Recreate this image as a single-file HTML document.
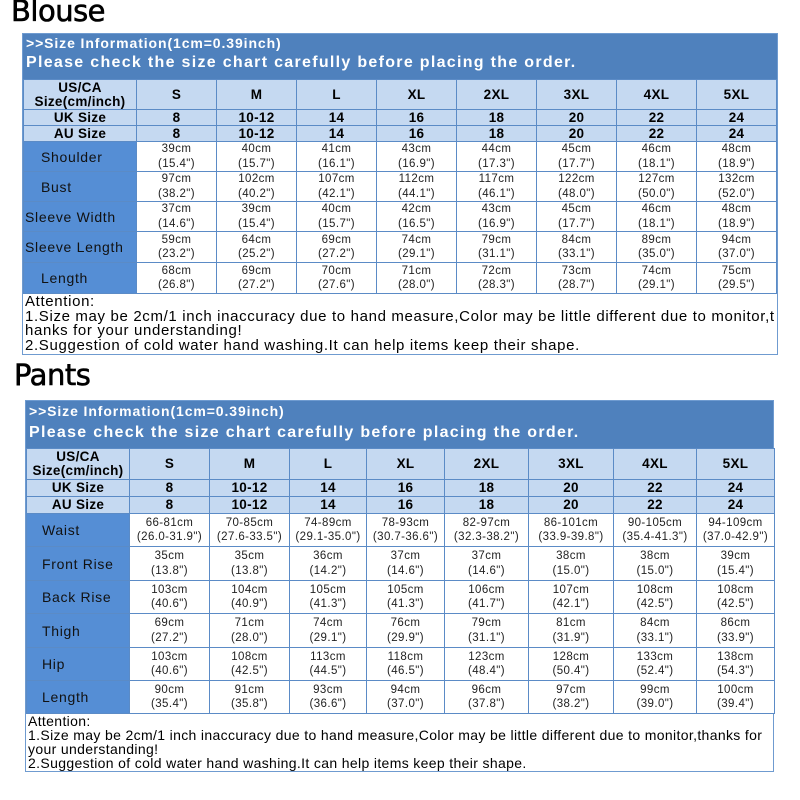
<!DOCTYPE html>
<html><head><meta charset="utf-8"><style>
*{margin:0;padding:0;box-sizing:border-box}
body{width:800px;height:800px;background:#fff;position:relative;overflow:hidden;font-family:"Liberation Sans",Arial,sans-serif}
.title{position:absolute;font-family:"DejaVu Sans","Liberation Sans",sans-serif;font-size:29px;color:#000;letter-spacing:-0.5px;-webkit-text-stroke:0.6px #000}
.box{position:absolute;border:1px solid #6f9bd0}
.hd{background:#4f81bd;color:#fff;font-weight:bold;position:relative}
.hd .a{position:absolute;left:3px;font-size:14px;letter-spacing:0.9px}
.hd .b{position:absolute;left:3px;font-size:16px;letter-spacing:1.3px}
table{border-collapse:collapse;table-layout:fixed;width:100%}
td{border:1px solid #5b8bc6;text-align:center;color:#000;overflow:hidden;white-space:nowrap}
tr.h td{background:#c5d9f1;font-weight:bold;font-size:13.5px;line-height:14px;letter-spacing:0.3px}
tr.s td{background:#c5d9f1;font-weight:bold;font-size:13.5px;line-height:14px;letter-spacing:0.3px}
td.l{background:#558ed5;font-size:14px;letter-spacing:0.7px;color:#111;text-align:left}
.bl td.l{padding-left:17px}
.bl td.w{padding-left:1px}
.pt td.l{padding-left:15px}
td.d{background:#fff;font-size:11.5px;line-height:14.5px;color:#222;letter-spacing:0.4px}
.att{font-size:15px;line-height:14.5px;color:#000;padding-left:2px;letter-spacing:0.65px;white-space:nowrap}
.pt .att{font-size:14px;letter-spacing:0.35px;line-height:14px}
</style></head><body>
<div class="title" style="left:11px;top:-6px">Blouse</div>
<div class="box bl" style="left:22px;top:33px;width:756px;height:322px">
<div class="hd" style="height:45px"><div class="a" style="top:1px">&gt;&gt;Size Information(1cm=0.39inch)</div><div class="b" style="top:20px">Please check the size chart carefully before placing the order.</div></div>
<table>
<colgroup><col style="width:113px"><col span="8" style="width:80px"></colgroup>
<tr class="h" style="height:30px"><td>US/CA<br>Size(cm/inch)</td><td>S</td><td>M</td><td>L</td><td>XL</td><td>2XL</td><td>3XL</td><td>4XL</td><td>5XL</td></tr>
<tr class="s" style="height:16px"><td>UK Size</td><td>8</td><td>10-12</td><td>14</td><td>16</td><td>18</td><td>20</td><td>22</td><td>24</td></tr>
<tr class="s" style="height:16px"><td>AU Size</td><td>8</td><td>10-12</td><td>14</td><td>16</td><td>18</td><td>20</td><td>22</td><td>24</td></tr>
<tr style="height:30px"><td class="l">Shoulder</td><td class="d">39cm<br>(15.4")</td><td class="d">40cm<br>(15.7")</td><td class="d">41cm<br>(16.1")</td><td class="d">43cm<br>(16.9")</td><td class="d">44cm<br>(17.3")</td><td class="d">45cm<br>(17.7")</td><td class="d">46cm<br>(18.1")</td><td class="d">48cm<br>(18.9")</td></tr>
<tr style="height:30px"><td class="l">Bust</td><td class="d">97cm<br>(38.2")</td><td class="d">102cm<br>(40.2")</td><td class="d">107cm<br>(42.1")</td><td class="d">112cm<br>(44.1")</td><td class="d">117cm<br>(46.1")</td><td class="d">122cm<br>(48.0")</td><td class="d">127cm<br>(50.0")</td><td class="d">132cm<br>(52.0")</td></tr>
<tr style="height:30px"><td class="l w">Sleeve Width</td><td class="d">37cm<br>(14.6")</td><td class="d">39cm<br>(15.4")</td><td class="d">40cm<br>(15.7")</td><td class="d">42cm<br>(16.5")</td><td class="d">43cm<br>(16.9")</td><td class="d">45cm<br>(17.7")</td><td class="d">46cm<br>(18.1")</td><td class="d">48cm<br>(18.9")</td></tr>
<tr style="height:31px"><td class="l w">Sleeve Length</td><td class="d">59cm<br>(23.2")</td><td class="d">64cm<br>(25.2")</td><td class="d">69cm<br>(27.2")</td><td class="d">74cm<br>(29.1")</td><td class="d">79cm<br>(31.1")</td><td class="d">84cm<br>(33.1")</td><td class="d">89cm<br>(35.0")</td><td class="d">94cm<br>(37.0")</td></tr>
<tr style="height:31px"><td class="l">Length</td><td class="d">68cm<br>(26.8")</td><td class="d">69cm<br>(27.2")</td><td class="d">70cm<br>(27.6")</td><td class="d">71cm<br>(28.0")</td><td class="d">72cm<br>(28.3")</td><td class="d">73cm<br>(28.7")</td><td class="d">74cm<br>(29.1")</td><td class="d">75cm<br>(29.5")</td></tr>
</table>
<div class="att" style="padding-top:1px">Attention:<br>1.Size may be 2cm/1 inch inaccuracy due to hand measure,Color may be little different due to monitor,t<br>hanks for your understanding!<br>2.Suggestion of cold water hand washing.It can help items keep their shape.</div>
</div>

<div class="title" style="left:14px;top:358px">Pants</div>
<div class="box pt" style="left:25px;top:400px;width:749px;height:372px">
<div class="hd" style="height:47px"><div class="a" style="top:2px">&gt;&gt;Size Information(1cm=0.39inch)</div><div class="b" style="top:23px">Please check the size chart carefully before placing the order.</div></div>
<table>
<colgroup><col style="width:103px"><col style="width:80px"><col style="width:80px"><col style="width:77px"><col style="width:78px"><col style="width:84px"><col style="width:85px"><col style="width:83px"><col style="width:78px"></colgroup>
<tr class="h" style="height:31px"><td>US/CA<br>Size(cm/inch)</td><td>S</td><td>M</td><td>L</td><td>XL</td><td>2XL</td><td>3XL</td><td>4XL</td><td>5XL</td></tr>
<tr class="s" style="height:17px"><td>UK Size</td><td>8</td><td>10-12</td><td>14</td><td>16</td><td>18</td><td>20</td><td>22</td><td>24</td></tr>
<tr class="s" style="height:17px"><td>AU Size</td><td>8</td><td>10-12</td><td>14</td><td>16</td><td>18</td><td>20</td><td>22</td><td>24</td></tr>
<tr style="height:33px"><td class="l">Waist</td><td class="d">66-81cm<br>(26.0-31.9")</td><td class="d">70-85cm<br>(27.6-33.5")</td><td class="d">74-89cm<br>(29.1-35.0")</td><td class="d">78-93cm<br>(30.7-36.6")</td><td class="d">82-97cm<br>(32.3-38.2")</td><td class="d">86-101cm<br>(33.9-39.8")</td><td class="d">90-105cm<br>(35.4-41.3")</td><td class="d">94-109cm<br>(37.0-42.9")</td></tr>
<tr style="height:34px"><td class="l">Front Rise</td><td class="d">35cm<br>(13.8")</td><td class="d">35cm<br>(13.8")</td><td class="d">36cm<br>(14.2")</td><td class="d">37cm<br>(14.6")</td><td class="d">37cm<br>(14.6")</td><td class="d">38cm<br>(15.0")</td><td class="d">38cm<br>(15.0")</td><td class="d">39cm<br>(15.4")</td></tr>
<tr style="height:33px"><td class="l">Back Rise</td><td class="d">103cm<br>(40.6")</td><td class="d">104cm<br>(40.9")</td><td class="d">105cm<br>(41.3")</td><td class="d">105cm<br>(41.3")</td><td class="d">106cm<br>(41.7")</td><td class="d">107cm<br>(42.1")</td><td class="d">108cm<br>(42.5")</td><td class="d">108cm<br>(42.5")</td></tr>
<tr style="height:34px"><td class="l">Thigh</td><td class="d">69cm<br>(27.2")</td><td class="d">71cm<br>(28.0")</td><td class="d">74cm<br>(29.1")</td><td class="d">76cm<br>(29.9")</td><td class="d">79cm<br>(31.1")</td><td class="d">81cm<br>(31.9")</td><td class="d">84cm<br>(33.1")</td><td class="d">86cm<br>(33.9")</td></tr>
<tr style="height:33px"><td class="l">Hip</td><td class="d">103cm<br>(40.6")</td><td class="d">108cm<br>(42.5")</td><td class="d">113cm<br>(44.5")</td><td class="d">118cm<br>(46.5")</td><td class="d">123cm<br>(48.4")</td><td class="d">128cm<br>(50.4")</td><td class="d">133cm<br>(52.4")</td><td class="d">138cm<br>(54.3")</td></tr>
<tr style="height:33px"><td class="l">Length</td><td class="d">90cm<br>(35.4")</td><td class="d">91cm<br>(35.8")</td><td class="d">93cm<br>(36.6")</td><td class="d">94cm<br>(37.0")</td><td class="d">96cm<br>(37.8")</td><td class="d">97cm<br>(38.2")</td><td class="d">99cm<br>(39.0")</td><td class="d">100cm<br>(39.4")</td></tr>
</table>
<div class="att" style="padding-top:0px">Attention:<br>1.Size may be 2cm/1 inch inaccuracy due to hand measure,Color may be little different due to monitor,thanks for<br>your understanding!<br>2.Suggestion of cold water hand washing.It can help items keep their shape.</div>
</div>
</body></html>
